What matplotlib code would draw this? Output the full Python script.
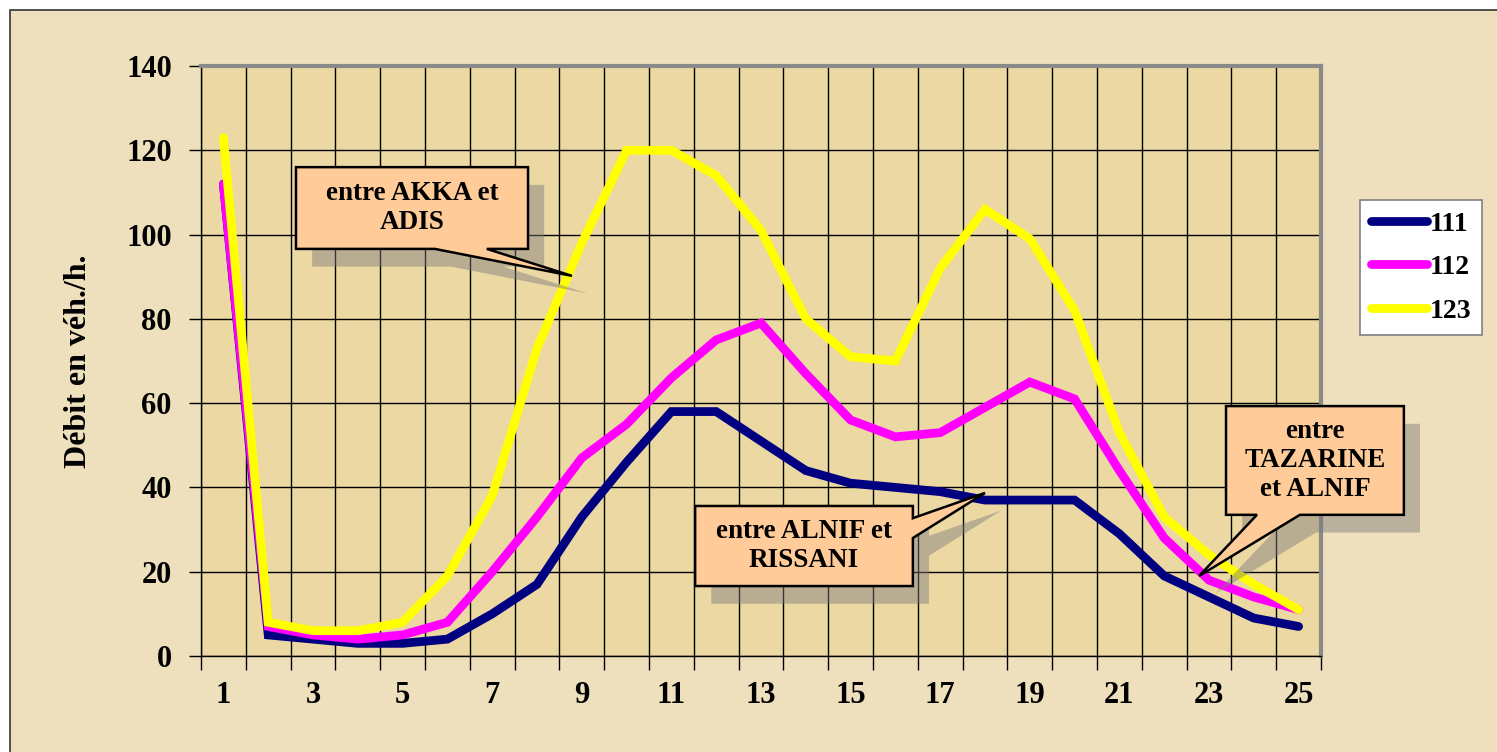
import numpy as np
import matplotlib
matplotlib.use("Agg")
import matplotlib.pyplot as plt
from matplotlib.patches import Polygon, Rectangle

# hourly flow per road section (veh/h), index 1..25
hours = list(range(1, 26))
s111 = [112, 5, 4, 3, 3, 4, 10, 17, 33, 46, 58, 58, 51, 44, 41, 40, 39, 37, 37, 37, 29, 19, 14, 9, 7]
s112 = [112, 7, 5, 4, 5, 8, 20, 33, 47, 55, 66, 75, 79, 67, 56, 52, 53, 59, 65, 61, 44, 28, 18, 14, 11]
s123 = [123, 8, 6, 6, 8, 19, 38, 73, 98, 120, 120, 114, 101, 80, 71, 70, 92, 106, 99, 82, 53, 33, 24, 17, 11]
series_names = ["111", "112", "123"]
series_colors = ["#000080", "#FF00FF", "#FFFF00"]
xtick_labels = [str(h) for h in hours[::2]]

plt.rcParams['font.family'] = ['Liberation Serif', 'DejaVu Serif']
plt.rcParams['font.weight'] = 'bold'

fig = plt.figure(figsize=(14.97, 7.52), dpi=100, facecolor='white')
# parchment frame
fig.patches.append(Rectangle((10 / 1497, -0.01), 1.02, 1 - 10 / 752 + 0.01,
                             transform=fig.transFigure, facecolor='#EEDFBD',
                             edgecolor='#333333', linewidth=1.2, zorder=-5))

ax = fig.add_axes([201 / 1497, 1 - 656 / 752, 1120 / 1497, 590 / 752])
ax.set_facecolor('#EBD8A3')

for vals, name, col in zip([s111, s112, s123], series_names, series_colors):
    ax.plot(hours, vals, color=col, lw=6.3, label=name, solid_capstyle='round',
            solid_joinstyle='miter', zorder=3)

ax.set_xlim(0.5, 25.5)
ax.set_ylim(0, 140)
ax.set_yticks(np.arange(0, 141, 20))
ax.set_xticks(np.arange(0.5, 26, 1))
ax.set_xticklabels([])
ax.set_xticks(hours[::2], minor=True)
ax.set_xticklabels(xtick_labels, minor=True)
ax.tick_params(axis='x', which='major', direction='out', length=10, width=1, color='black')
ax.tick_params(axis='x', which='minor', length=0, pad=18, labelsize=22)
ax.tick_params(axis='y', direction='out', length=9, width=1, pad=12, labelsize=22)
ax.grid(True, which='major', color='black', lw=1, zorder=1)
ax.set_axisbelow(True)

for side in ['left', 'bottom']:
    ax.spines[side].set_color('black')
    ax.spines[side].set_linewidth(1)
for side in ['top', 'right']:
    ax.spines[side].set_color('#8A8A8A')
    ax.spines[side].set_linewidth(3)

ax.set_ylabel('Débit en véh./h.', fontsize=23, fontweight='bold', labelpad=24)


def callout(verts, box, text):
    x0, x1, y0, y1 = box
    dx, dy = 0.36, -4.2
    sh = [(x + dx, y + dy) for x, y in verts]
    ax.add_patch(Polygon(sh, closed=True, facecolor='#7A7A7A', edgecolor='none',
                         alpha=0.45, zorder=4, clip_on=False))
    ax.add_patch(Polygon(verts, closed=True, facecolor='#FFCC99', edgecolor='black',
                         lw=1.8, zorder=5, clip_on=False, joinstyle='miter'))
    ax.text((x0 + x1) / 2, (y0 + y1) / 2, text, ha='center', va='center',
            fontsize=19.5, fontweight='bold', zorder=6, linespacing=1.2)


# entre AKKA et ADIS (pointer on bottom edge)
b = (2.62, 7.80, 96.6, 116.0)
callout([(b[0], b[3]), (b[1], b[3]), (b[1], b[2]), (6.88, b[2]), (8.78, 90.2),
         (5.72, b[2]), (b[0], b[2])], b, 'entre AKKA et\nADIS')

# entre ALNIF et RISSANI (pointer on right edge)
b = (11.53, 16.39, 16.6, 35.6)
callout([(b[0], b[3]), (b[1], b[3]), (b[1], 32.7), (18.0, 38.7), (b[1], 28.0),
         (b[1], b[2]), (b[0], b[2])], b, 'entre ALNIF et\nRISSANI')

# entre TAZARINE et ALNIF (pointer on bottom edge)
b = (23.38, 27.35, 33.5, 59.3)
callout([(b[0], b[3]), (b[1], b[3]), (b[1], b[2]), (25.03, b[2]), (22.78, 19.0),
         (24.07, b[2]), (b[0], b[2])], b, 'entre\nTAZARINE\net ALNIF')

leg = fig.legend(loc='upper left', bbox_to_anchor=(1360 / 1497, 1 - 200 / 752),
                 borderaxespad=0, frameon=True, fancybox=False, framealpha=1,
                 handlelength=2.0, handletextpad=0.1, labelspacing=0.65,
                 borderpad=0.4, prop={'weight': 'bold', 'size': 20})
leg.get_frame().set_facecolor('white')
leg.get_frame().set_edgecolor('#808080')
leg.get_frame().set_linewidth(1.2)

fig.savefig('out.png', dpi=100, facecolor=fig.get_facecolor())
